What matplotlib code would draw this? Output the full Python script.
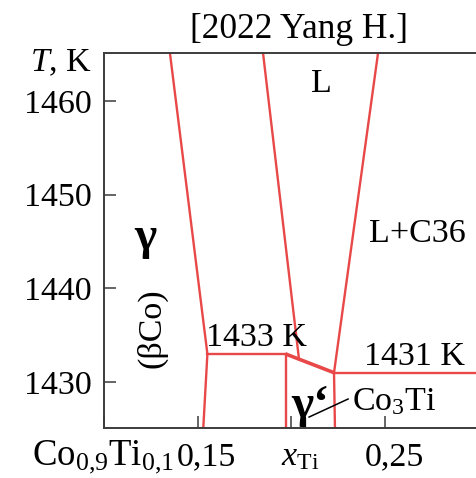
import matplotlib
matplotlib.use("Agg")
import matplotlib.pyplot as plt
from matplotlib.transforms import ScaledTranslation

plt.rcParams["font.family"] = ["Liberation Serif", "DejaVu Serif"]
plt.rcParams["mathtext.fontset"] = "custom"
plt.rcParams["mathtext.rm"] = "Liberation Serif"
plt.rcParams["mathtext.it"] = "Liberation Serif:italic"
plt.rcParams["mathtext.bf"] = "Liberation Serif:bold"

# Co-Ti phase diagram around Co3Ti (gamma') formation
x_range = [0.10, 0.2986]
T_range = [1425.1, 1465.1]

T_inv_gamma = 1433.0   # L -> gamma + gamma'
T_inv_c36 = 1431.0     # L -> gamma' + C36

# gamma (beta-Co) solvus / solidus
gamma_x = [0.1352, 0.1552, 0.1530]
gamma_T = [1465.1, T_inv_gamma, 1425.1]

# liquidus on the Co-rich side of the L field
liq_left_x = [0.1849, 0.2041]
liq_left_T = [1465.1, 1432.44]

# liquidus towards C36
liq_right_x = [0.2463, 0.2228]
liq_right_T = [1465.1, T_inv_c36]

# invariant lines and gamma' boundaries
inv_gamma_x = [0.1552, 0.1969]
link_x = [0.1969, 0.2228]
link_T = [T_inv_gamma, T_inv_c36]
inv_c36_x = [0.2228, 0.2986]
gp_left_x = [0.1969, 0.1969]
gp_left_T = [T_inv_gamma, 1425.1]
gp_right_x = [0.2228, 0.2233]
gp_right_T = [T_inv_c36, 1425.1]

x_ticks = [0.10, 0.15, 0.20, 0.25]
x_labels = ["Co$_{0{,}9}$Ti$_{0{,}1}$", "0,15", r"$x_{\mathrm{Ti}}$", "0,25"]
x_label_shift = [-1.0, 6.5, 6.5, 6.5]
y_ticks = [1430, 1440, 1450, 1460]

RED = "#e84848"
AX = "#3c3c3c"
FS = 24.5

fig = plt.figure(figsize=(4.76, 4.78), dpi=100)
ax = fig.add_axes([104 / 476, 50 / 478, 1 - 104 / 476, 375 / 478])
ax.set_xlim(*x_range)
ax.set_ylim(*T_range)

lw = 1.7
ax.plot(gamma_x, gamma_T, color=RED, lw=lw)
ax.plot(liq_left_x, liq_left_T, color=RED, lw=lw)
ax.plot(liq_right_x, liq_right_T, color=RED, lw=lw)
ax.plot(inv_gamma_x, [T_inv_gamma] * 2, color=RED, lw=lw)
ax.plot(link_x, link_T, color=RED, lw=2.6, solid_capstyle="butt")
ax.plot(inv_c36_x, [T_inv_c36] * 2, color=RED, lw=lw)
ax.plot(gp_left_x, gp_left_T, color=RED, lw=lw)
ax.plot(gp_right_x, gp_right_T, color=RED, lw=lw)

for side in ("left", "bottom", "top"):
    ax.spines[side].set_color(AX)
    ax.spines[side].set_linewidth(1.4)
ax.spines["right"].set_visible(False)

ax.set_yticks(y_ticks)
ax.set_yticklabels([str(t) for t in y_ticks])
ax.set_xticks(x_ticks)
ax.set_xticklabels(x_labels)
ax.tick_params(axis="both", direction="in", length=8.3, width=1.1,
               color=AX, labelsize=FS, labelcolor="black")
ax.tick_params(axis="y", pad=8.6)
ax.tick_params(axis="x", pad=26.6)
for i, (lab, dx) in enumerate(zip(ax.get_xticklabels(), x_label_shift)):
    lab.set_verticalalignment("baseline")
    if i == 0:
        lab.set_fontsize(26.5)
    lab.set_transform(lab.get_transform()
                      + ScaledTranslation(dx / 72, 0, fig.dpi_scale_trans))

# phase field labels
ax.text(0.2159, 1461.8, "L", fontsize=FS, ha="center", va="center")
ax.text(0.2674, 1445.8, "L+C36", fontsize=FS, ha="center", va="center")
ax.text(0.1219, 1445.4, "γ", fontsize=34, fontweight="bold",
        ha="center", va="center")
ax.text(0.1256, 1435.8, "(βCo)", fontsize=FS, rotation=90,
        ha="center", va="center")
ax.text(0.1812, T_inv_gamma + 0.85, f"{T_inv_gamma:.0f} K", fontsize=FS,
        ha="center", va="baseline")
ax.text(0.2658, T_inv_c36 + 0.85, f"{T_inv_c36:.0f} K", fontsize=FS,
        ha="center", va="baseline")
ax.text(0.2100, 1426.3, "γ‘", fontsize=34, fontweight="bold",
        ha="center", va="baseline")
ax.plot([0.2095, 0.2303], [1426.27, 1428.19], color="black", lw=1.1)
ax.text(0.2324, 1427.0, "Co$_3$Ti", fontsize=FS, ha="left", va="baseline")

fig.text(92 / 476, 1 - 63 / 478, "$T$, K", fontsize=FS,
         ha="right", va="center")
fig.text(299 / 476, 1 - 38 / 478, "[2022 Yang H.]", fontsize=25.5,
         ha="center", va="baseline")

fig.savefig("out.png", dpi=100)
